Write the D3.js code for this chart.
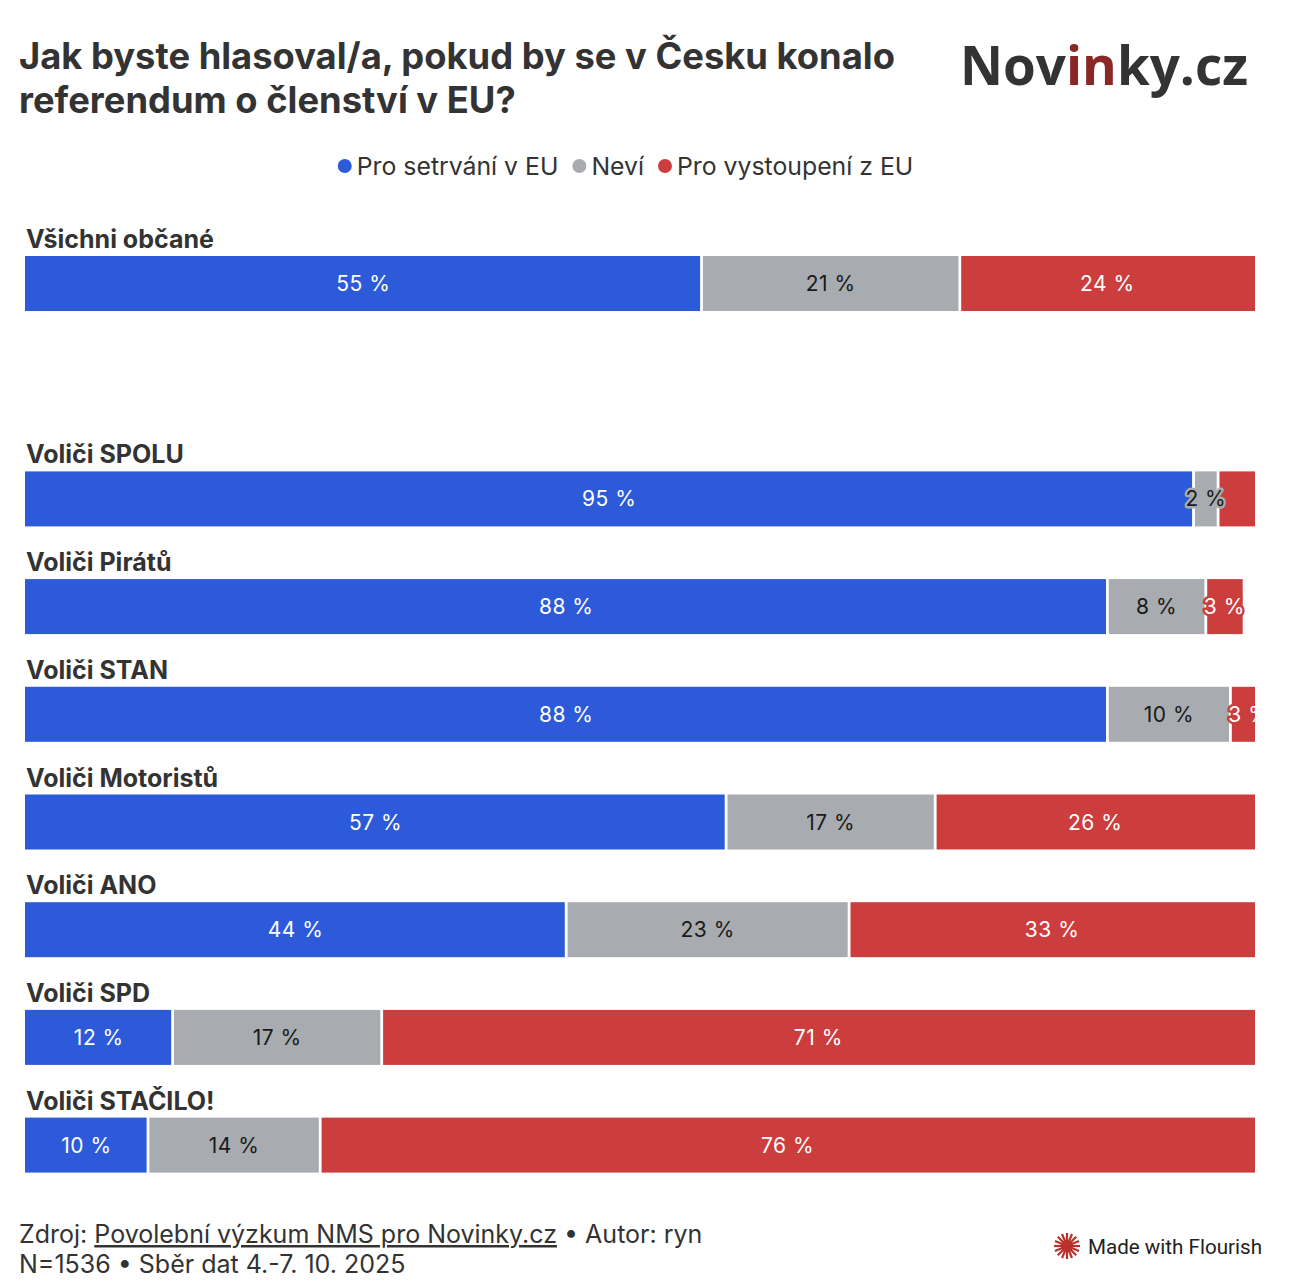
<!DOCTYPE html>
<html>
<head>
<meta charset="utf-8">
<script src="https://cdn.jsdelivr.net/npm/d3@7"></script>
<style>
  html, body { margin: 0; padding: 0; background: #fff; }
  svg { display: block; }
</style>
</head>
<body>
<svg id="chart" width="1294" height="1286"></svg>
<script>
// ---- DATA ----
const categories = ["Všichni občané", "", "Voliči SPOLU", "Voliči Pirátů", "Voliči STAN", "Voliči Motoristů", "Voliči ANO", "Voliči SPD", "Voliči STAČILO!"];
const seriesNames = ["Pro setrvání v EU", "Neví", "Pro vystoupení z EU"];
const stayValues  = [55, null, 95, 88, 88, 57, 44, 12, 10];
const dontKnowValues = [21, null, 2, 8, 10, 17, 23, 17, 14];
const leaveValues = [24, null, 3, 3, 3, 26, 33, 71, 76];
const xTicks = [0, 100];
const titleLines = ["Jak byste hlasoval/a, pokud by se v Česku konalo", "referendum o členství v EU?"];

const colors = ["#2c5ad9", "#a8abaf", "#cc3d3d"];
const labelColors = ["#ffffff", "#1a1a1a", "#ffffff"];

const svg = d3.select("#chart");
const left = 25, right = 1255;

// Title
const title = svg.append("g").selectAll("text").data(titleLines).join("text")
  .attr("x", 19).attr("y", (d, i) => 69 + i * 44)
  .attr("font-family", "Inter, sans-serif").attr("font-weight", 700)
  .attr("font-size", 33).attr("fill", "#333333")
  .text(d => d);
{
  const w = title.nodes()[0].getComputedTextLength();
  title.attr("font-size", 33 * 876 / w);
}

// Logo
const logo = svg.append("text").attr("x", 960).attr("y", 85)
  .attr("font-family", "'Open Sans', sans-serif").attr("font-weight", 700)
  .attr("font-size", 60).attr("fill", "#333333");
logo.append("tspan").text("Nov");
logo.append("tspan").attr("fill", "#8a2828").text("in");
logo.append("tspan").text("ky.cz");
{
  const w = logo.node().getComputedTextLength();
  logo.attr("font-size", 60 * 288 / w);
}

// Legend
const legend = svg.append("g");
let lx = 0;
seriesNames.forEach((name, i) => {
  const g = legend.append("g");
  g.append("circle").attr("cx", 7).attr("cy", 0).attr("r", 7).attr("fill", colors[i]);
  const t = g.append("text").attr("x", 19).attr("y", 0).attr("dy", "0.35em")
    .attr("font-family", "Inter, sans-serif").attr("font-size", 24.8).attr("fill", "#333333").text(name);
  const w = 19 + t.node().getComputedTextLength();
  g.attr("transform", `translate(${lx},166)`);
  lx += w + 14;
});
const legendW = lx - 14;
legend.attr("transform", `translate(${(334 + 917) / 2 - legendW / 2},0)`);

// Scales
const x = d3.scaleLinear().domain([xTicks[0], xTicks[1]]).range([left, right]);
const y = d3.scaleBand().domain(categories.map((c, i) => i)).range([256, 256 + 107.7 * (9 - 0.4893)]).paddingInner(0.4893).paddingOuter(0);

const rows = categories.map((c, i) => ({
  name: c, i,
  vals: [stayValues[i], dontKnowValues[i], leaveValues[i]]
})).filter(r => r.name !== "");

const defs = svg.append("defs");
defs.append("clipPath").attr("id", "plotclip").append("rect")
  .attr("x", left).attr("y", 200).attr("width", right - left).attr("height", 1000);

const rowG = svg.append("g").selectAll("g").data(rows).join("g");

rowG.append("text")
  .attr("x", 26).attr("y", d => y(d.i) - 8)
  .attr("font-family", "Inter, sans-serif").attr("font-weight", 700)
  .attr("font-size", 25).attr("fill", "#333333")
  .text(d => d.name);

const gap = 1.4;
rowG.each(function(r) {
  const g = d3.select(this).append("g").attr("clip-path", "url(#plotclip)");
  let cum = 0;
  const segs = r.vals.map((v, k) => { const s = { k, v, start: cum, end: cum + v }; cum += v; return s; });
  const bw = y.bandwidth();
  g.selectAll("rect.seg").data(segs).join("rect").attr("class", "seg")
    .attr("x", s => x(s.start) + (s.k > 0 ? gap : 0))
    .attr("y", y(r.i))
    .attr("width", s => Math.max(0, x(s.end) - x(s.start) - (s.k > 0 ? gap : 0) - (s.k < 2 ? gap : 0)))
    .attr("height", bw)
    .attr("fill", s => colors[s.k]);

  let lastRight = -Infinity;
  segs.forEach(s => {
    const cx = (x(s.start) + x(s.end)) / 2;
    const t = g.append("text")
      .attr("x", cx).attr("y", y(r.i) + bw / 2).attr("dy", "0.36em")
      .attr("text-anchor", "middle")
      .attr("font-family", "Inter, sans-serif").attr("font-size", 21)
      .attr("fill", labelColors[s.k])
      .attr("stroke", colors[s.k]).attr("stroke-width", 5).attr("stroke-linejoin", "round")
      .attr("paint-order", "stroke")
      .style("letter-spacing", "0.5px")
      .text(Math.round(s.v) + " %");
    const w = t.node().getComputedTextLength();
    if (cx - w / 2 < lastRight) { t.remove(); return; }
    lastRight = cx + w / 2;
  });
});

// Footer
const f1 = svg.append("text").attr("x", 19).attr("y", 1243)
  .attr("font-family", "Inter, sans-serif").attr("font-size", 25).attr("fill", "#333333");
f1.append("tspan").text("Zdroj: ");
f1.append("tspan").style("text-decoration", "underline").text("Povolební výzkum NMS pro Novinky.cz");
f1.append("tspan").text(" • Autor: ryn");
svg.append("text").attr("x", 19).attr("y", 1273)
  .attr("font-family", "Inter, sans-serif").attr("font-size", 25).attr("fill", "#333333")
  .text("N=1536 • Sběr dat 4.-7. 10. 2025");

// Made with Flourish
const fl = svg.append("g").attr("transform", "translate(1067,1246)");
d3.range(16).forEach(i => {
  const a = i / 16 * 2 * Math.PI;
  fl.append("line").attr("x1", 0).attr("y1", 0)
    .attr("x2", Math.cos(a) * 13).attr("y2", Math.sin(a) * 13)
    .attr("stroke", "#b8312b").attr("stroke-width", 2.2);
});
fl.append("circle").attr("r", 6).attr("fill", "#b8312b");
const mwf = svg.append("text").attr("x", 1088).attr("y", 1254)
  .attr("font-family", "Roboto, sans-serif").attr("font-size", 21).attr("fill", "#222")
  .text("Made with Flourish");
{
  const w = mwf.node().getComputedTextLength();
  mwf.attr("textLength", 174).attr("lengthAdjust", "spacingAndGlyphs");
}
</script>
</body>
</html>
